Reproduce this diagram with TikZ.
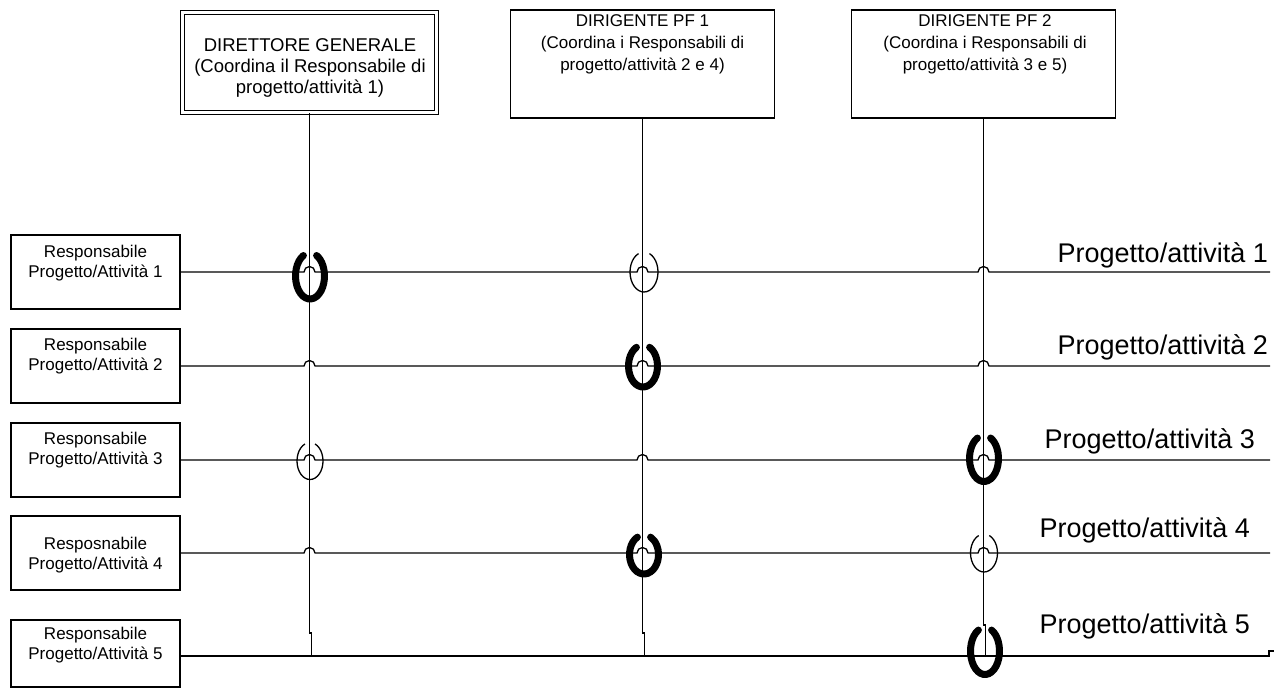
\documentclass[tikz,border=0pt]{standalone}
\usepackage{fontspec}
\setmainfont{Liberation Sans}
\begin{document}
\begin{tikzpicture}[x=1pt,y=-1pt,
  wire/.style={line width=1.3pt, line join=miter},
  dgbox/.style={draw, line width=1.3pt, double=white, double distance=3pt, minimum width=254pt, minimum height=100pt, inner sep=0pt},
  pfbox/.style={draw, line width=1.3pt, minimum width=264pt, minimum height=108pt, inner sep=0pt},
  lbox/.style={draw, line width=1.3pt, minimum width=169pt, minimum height=74pt, inner sep=0pt},
  ttext/.style={font=\fontsize{18.5}{21}\selectfont, align=center, inner sep=0pt},
  ptext/.style={font=\fontsize{17}{22}\selectfont, align=center, inner sep=0pt, anchor=north},
  ltext/.style={font=\fontsize{17}{20.5}\selectfont, align=center, inner sep=0pt},
  rlabel/.style={font=\fontsize{27}{30}\selectfont, anchor=east, inner sep=0pt},
  thickring/.style={line width=7pt, line cap=round},
  thinring/.style={line width=1.3pt}
]
\useasboundingbox (0,0) rectangle (1274,688);

% top boxes
\node[dgbox] (dg) at (309.5,62.5) {};
\node[ttext] (dgt) at (310,68) {DIRETTORE GENERALE\\(Coordina il Responsabile di\\progetto/attività 1)};
\node[pfbox] (pf1) at (642.5,64) {};
\node[ptext] (pf1t) at (642.5,14) {DIRIGENTE PF 1\\(Coordina i Responsabili di\\progetto/attività 2 e 4)};
\node[pfbox] (pf2) at (983.5,64) {};
\node[ptext] (pf2t) at (985,14) {DIRIGENTE PF 2\\(Coordina i Responsabili di\\progetto/attività 3 e 5)};

% left boxes
\node[lbox] (r1) at (95.5,272) {};
\node[ltext] (r1t) at (95.5,263) {Responsabile\\Progetto/Attività 1};
\node[lbox] (r2) at (95.5,366) {};
\node[ltext] (r2t) at (95.5,356) {Responsabile\\Progetto/Attività 2};
\node[lbox] (r3) at (95.5,460) {};
\node[ltext] (r3t) at (95.5,450) {Responsabile\\Progetto/Attività 3};
\node[lbox] (r4) at (95.5,553) {};
\node[ltext] (r4t) at (95.5,555) {Resposnabile\\Progetto/Attività 4};
\node[lbox, minimum height=67pt] (r5) at (95.5,653.5) {};
\node[ltext] (r5t) at (95.5,645) {Responsabile\\Progetto/Attività 5};

% right labels
\node[rlabel] (l1) at (1268,255) {Progetto/attività 1};
\node[rlabel] (l2) at (1268,347) {Progetto/attività 2};
\node[rlabel] (l3) at (1255,441) {Progetto/attività 3};
\node[rlabel] (l4) at (1250,530) {Progetto/attività 4};
\node[rlabel] (l5) at (1250,626) {Progetto/attività 5};

% coordinates
\coordinate (e1) at (1270,272);
\coordinate (e2) at (1270,366);
\coordinate (e3) at (1270,460);
\coordinate (e4) at (1270,553);
\coordinate (e5) at (1269,656);
\coordinate (e5b) at (1274,651);
\coordinate (j1) at (311.5,633);
\coordinate (b1) at (311.5,656);
\coordinate (j2) at (644.5,633);
\coordinate (b2) at (644.5,656);
\coordinate (j3) at (985.5,625);
\coordinate (b3) at (985.5,656);

% vertical lines
\draw[wire] (dg.south) -- (dg.south |- j1) -- (j1) -- (b1);
\draw[wire] (pf1.south) -- (pf1.south |- j2) -- (j2) -- (b2);
\draw[wire] (pf2.south) -- (pf2.south |- j3) -- (j3) -- (b3);

% horizontal lines with hops
\foreach \r/\e/\y in {r1/e1/272, r2/e2/366, r3/e3/460, r4/e4/553}{
  \draw[wire] (\r.east) -- (304,\y) arc[start angle=180,end angle=0,radius=5.5pt]
    -- (637,\y) arc[start angle=180,end angle=0,radius=5.5pt]
    -- (978,\y) arc[start angle=180,end angle=0,radius=5.5pt] -- (\e);
}
\draw[wire] (r5.east |- e5) -- (e5) |- (e5b);

% thick rings
\draw[thickring] (310,276) ++(117:14.5pt and 23pt) arc[start angle=117,end angle=423,x radius=14.5pt,y radius=23pt];
\draw[thickring] (643,366) ++(117:14.5pt and 21pt) arc[start angle=117,end angle=423,x radius=14.5pt,y radius=21pt];
\draw[thickring] (984,458.5) ++(117:14.5pt and 23pt) arc[start angle=117,end angle=423,x radius=14.5pt,y radius=23pt];
\draw[thickring] (644,554.5) ++(117:14.5pt and 19.5pt) arc[start angle=117,end angle=423,x radius=14.5pt,y radius=19.5pt];
\draw[thickring] (985,651) ++(117:14.5pt and 23.5pt) arc[start angle=117,end angle=423,x radius=14.5pt,y radius=23.5pt];

% thin rings
\draw[thinring] (644,272) ++(113:14pt and 20pt) arc[start angle=113,end angle=427,x radius=14pt,y radius=20pt];
\draw[thinring] (310,461) ++(113:13pt and 18.5pt) arc[start angle=113,end angle=427,x radius=13pt,y radius=18.5pt];
\draw[thinring] (984,553) ++(113:13.5pt and 19pt) arc[start angle=113,end angle=427,x radius=13.5pt,y radius=19pt];
\end{tikzpicture}
\end{document}
